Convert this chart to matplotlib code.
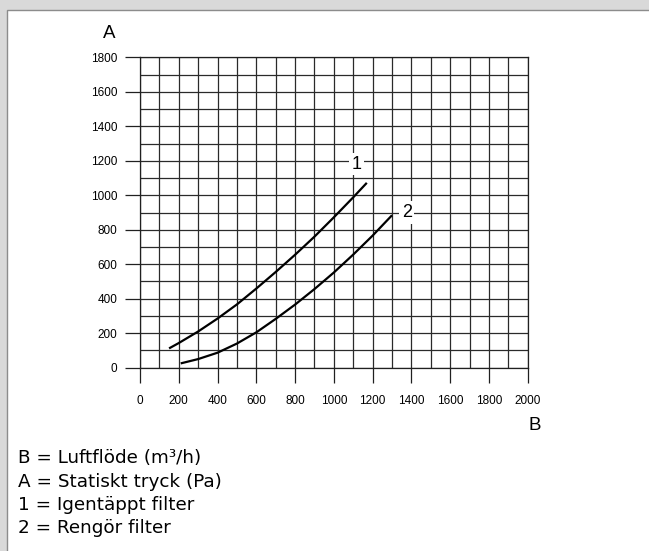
import matplotlib
matplotlib.use("Agg")
import matplotlib.pyplot as plt
from matplotlib.patches import Rectangle
from matplotlib.ticker import MultipleLocator

# curve 1: clogged filter, curve 2: clean filter
flow_1 = [150, 200, 300, 400, 500, 600, 700, 800, 900, 1000, 1100, 1170]
pressure_1 = [112, 143, 210, 285, 367, 459, 555, 655, 760, 872, 988, 1072]
flow_2 = [210, 300, 400, 500, 600, 700, 800, 900, 1000, 1100, 1200, 1300]
pressure_2 = [25, 50, 87, 140, 205, 283, 366, 456, 552, 656, 766, 884]

curve_labels = ["1", "2"]
label_pos = [(1118, 1180), (1376, 900)]

legend_lines = [
    "B = Luftflöde (m³/h)",
    "A = Statiskt tryck (Pa)",
    "1 = Igentäppt filter",
    "2 = Rengör filter",
]

W, H = 649, 551


def fx(px):
    return px / W


def fy(py):
    return 1 - py / H


fig = plt.figure(figsize=(W / 100, H / 100), dpi=100, facecolor="#d9d9d9")
# white panel with thin grey border
fig.patches.append(Rectangle((fx(7), fy(H + 5)), 1, fy(9.5) - fy(H + 5),
                             transform=fig.transFigure, facecolor="white",
                             edgecolor="#8c8c8c", linewidth=1, zorder=0))

ax = fig.add_axes([fx(140), fy(367.7), fx(527.7) - fx(140), fy(57.3) - fy(367.7)])
ax.set_zorder(2)
ax.set_facecolor("white")
ax.set_xlim(0, 2000)
ax.set_ylim(0, 1800)
ax.xaxis.set_major_locator(MultipleLocator(200))
ax.xaxis.set_minor_locator(MultipleLocator(100))
ax.yaxis.set_major_locator(MultipleLocator(200))
ax.yaxis.set_minor_locator(MultipleLocator(100))
ax.grid(which="both", color="#2a2a2a", linewidth=0.9)
ax.set_axisbelow(True)
for s in ax.spines.values():
    s.set_color("#202020")
    s.set_linewidth(0.9)

ax.tick_params(which="major", length=10.5, width=0.9, color="#202020",
               labelsize=8.5, pad=6)
ax.tick_params(axis="x", which="major", pad=9)
ax.tick_params(which="minor", length=0)
for lab in ax.get_xticklabels() + ax.get_yticklabels():
    lab.set_family("Liberation Sans")

ax.plot(flow_1, pressure_1, color="black", linewidth=1.6, solid_capstyle="butt")
ax.plot(flow_2, pressure_2, color="black", linewidth=1.6, solid_capstyle="butt")

for lab, (x, y) in zip(curve_labels, label_pos):
    ax.text(x, y, lab, fontsize=13, family="Liberation Sans", ha="center", va="center",
            bbox=dict(facecolor="white", edgecolor="none", pad=2))

fig.text(fx(109.5), fy(33), "A", fontsize=13.5, family="Liberation Sans",
         ha="center", va="center", zorder=3)
fig.text(fx(535), fy(426), "B", fontsize=13.5, family="Liberation Sans",
         ha="center", va="center", zorder=3)

for i, line in enumerate(legend_lines):
    fig.text(fx(18), fy(463.3 + i * 23.3), line, fontsize=13.2, family="DejaVu Sans",
             ha="left", va="baseline", zorder=3)

fig.savefig("out.png", dpi=100, facecolor=fig.get_facecolor())
